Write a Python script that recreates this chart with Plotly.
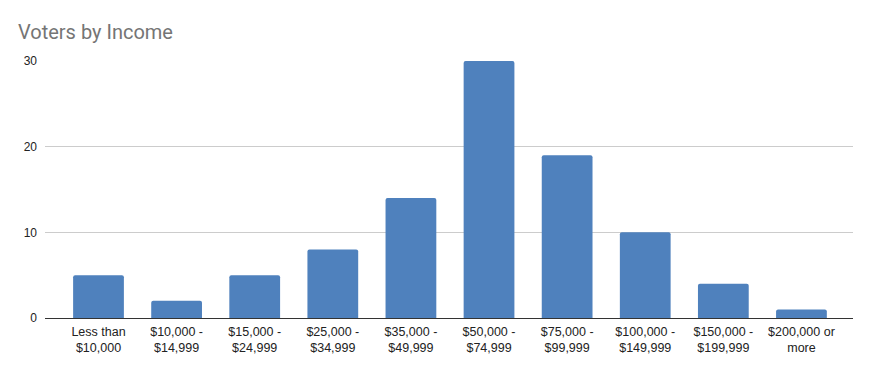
import plotly.graph_objects as go

categories = ["Less than<br>$10,000", "$10,000 -<br>$14,999", "$15,000 -<br>$24,999",
              "$25,000 -<br>$34,999", "$35,000 -<br>$49,999", "$50,000 -<br>$74,999",
              "$75,000 -<br>$99,999", "$100,000 -<br>$149,999", "$150,000 -<br>$199,999",
              "$200,000 or<br>more"]
voters = [5, 2, 5, 8, 14, 30, 19, 10, 4, 1]
y_ticks = [0, 10, 20, 30]

fig = go.Figure(go.Bar(
    x=list(range(len(categories))), y=voters,
    width=0.65,
    marker=dict(color="#4f81bd", line=dict(width=0), cornerradius=2),
    hoverinfo="skip",
))

fig.update_layout(
    width=872, height=371,
    margin=dict(l=45, r=19, t=61, b=53),
    paper_bgcolor="white", plot_bgcolor="white",
    title=dict(text="Voters by Income", x=18 / 872, xref="container", xanchor="left",
               y=0.913, yref="container", yanchor="middle",
               font=dict(family="Roboto", size=20, color="#757575")),
    showlegend=False,
)

fig.update_xaxes(
    tickmode="array", tickvals=list(range(len(categories))), ticktext=categories,
    range=[-0.685, 9.66], showgrid=False, zeroline=False,
    showline=False, ticks="", ticklabelstandoff=4,
    tickfont=dict(family="Liberation Sans, Arial", size=12.5, color="#222222"),
)
fig.update_yaxes(
    range=[0, 30], tickvals=y_ticks, showgrid=True, gridcolor="#cccccc", gridwidth=1,
    zeroline=True, zerolinecolor="#333333", zerolinewidth=1,
    ticks="", ticklabelstandoff=7,
    tickfont=dict(family="Liberation Sans, Arial", size=12, color="#222222"),
)

fig.write_html("out.html")
